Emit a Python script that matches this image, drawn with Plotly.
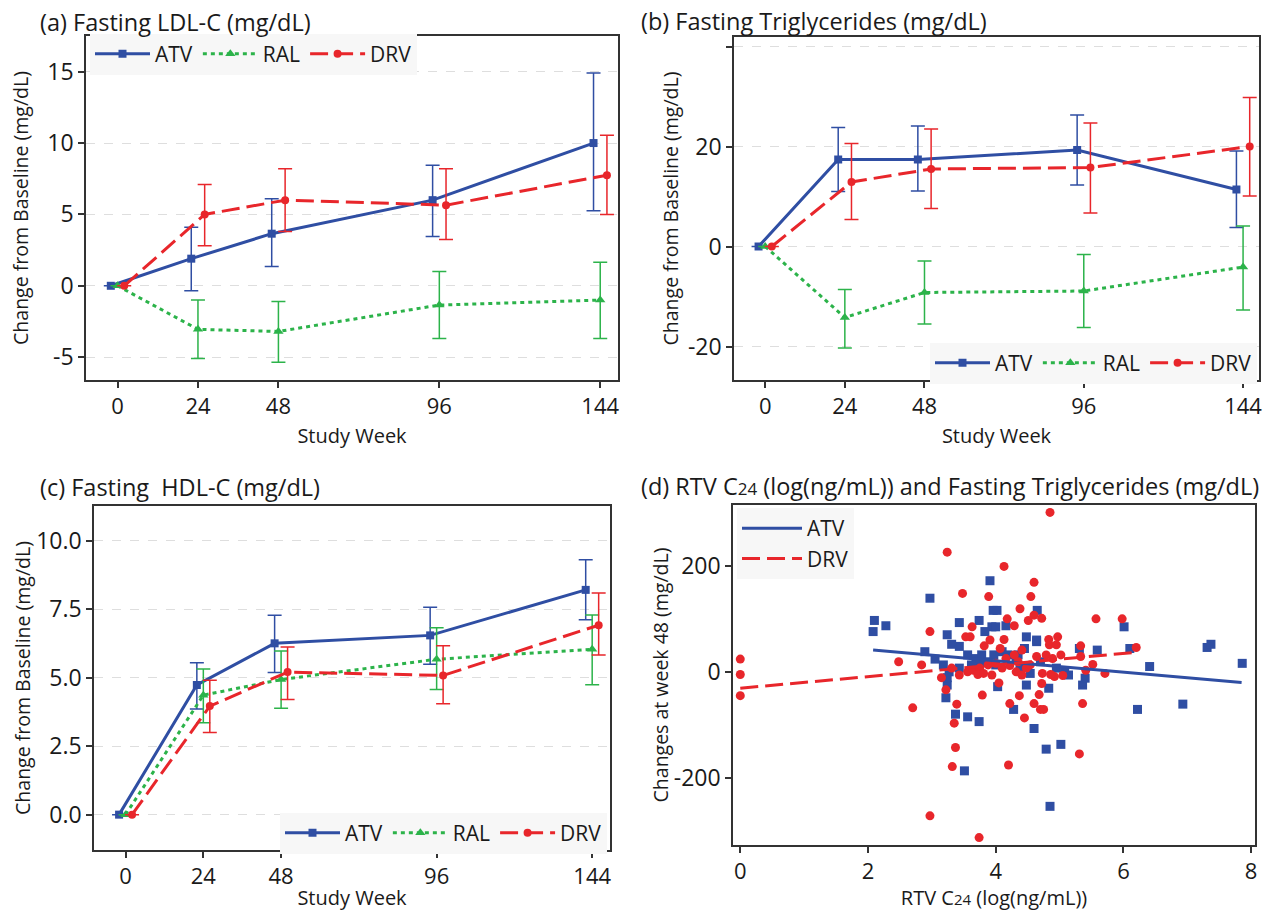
import plotly.graph_objects as go

# ---------------- data ----------------
weeks = [0, 24, 48, 96, 144]
groups = ["ATV", "RAL", "DRV"]

# (a) Fasting LDL-C: mean, upper and lower CI
ldl_atv = [0, 1.9, 3.65, 6.0, 10.0]
ldl_atv_hi = [None, 4.1, 6.1, 8.45, 14.9]
ldl_atv_lo = [None, -0.35, 1.35, 3.45, 5.25]
ldl_ral = [0, -3.05, -3.2, -1.35, -1.0]
ldl_ral_hi = [None, -1.0, -1.1, 1.0, 1.65]
ldl_ral_lo = [None, -5.1, -5.35, -3.7, -3.7]
ldl_drv = [0, 5.0, 6.0, 5.65, 7.75]
ldl_drv_hi = [None, 7.1, 8.2, 8.2, 10.55]
ldl_drv_lo = [None, 2.8, 3.8, 3.25, 5.0]

# (b) Fasting triglycerides
tg_atv = [0, 17.4, 17.4, 19.3, 11.4]
tg_atv_hi = [None, 23.8, 24.1, 26.3, 19.1]
tg_atv_lo = [None, 11.0, 11.1, 12.3, 3.8]
tg_ral = [0, -14.2, -9.2, -8.9, -4.1]
tg_ral_hi = [None, -8.6, -2.9, -1.6, 4.1]
tg_ral_lo = [None, -20.3, -15.5, -16.2, -12.7]
tg_drv = [0, 12.9, 15.5, 15.8, 20.0]
tg_drv_hi = [None, 20.6, 23.5, 24.7, 29.8]
tg_drv_lo = [None, 5.4, 7.6, 6.7, 10.1]

# (c) Fasting HDL-C
hdl_atv = [0, 4.73, 6.25, 6.54, 8.2]
hdl_atv_hi = [None, 5.54, 7.27, 7.57, 9.3]
hdl_atv_lo = [None, 3.85, 5.19, 5.49, 7.11]
hdl_ral = [0, 4.36, 4.93, 5.67, 6.03]
hdl_ral_hi = [None, 5.31, 5.97, 6.82, 7.28]
hdl_ral_lo = [None, 3.35, 3.88, 4.57, 4.74]
hdl_drv = [0, 3.96, 5.2, 5.08, 6.91]
hdl_drv_hi = [None, 4.9, 6.12, 6.16, 8.09]
hdl_drv_lo = [None, 3.0, 4.2, 4.05, 5.82]

# (d) RTV C24 vs change in triglycerides at week 48
atv_c24 = [2.10, 2.08, 2.28, 2.97, 3.24, 3.43, 3.74, 3.91, 3.96, 4.02, 3.94, 4.00, 3.83, 4.16,
           4.65, 4.48, 4.64, 6.01, 6.10, 5.59, 5.31, 7.31, 7.37, 7.86, 6.41, 6.22, 6.93, 5.36,
           5.40, 5.14, 2.89, 3.05, 3.24, 3.22, 3.37, 3.56, 3.74, 3.51, 4.60, 4.79, 5.02, 4.85,
           4.28, 4.03, 4.83, 4.48, 3.31, 3.43, 3.56, 3.69, 3.78, 3.88, 4.00, 4.10, 4.19, 4.32,
           4.38, 4.54, 4.70, 4.95, 5.08, 3.18, 3.27, 3.24, 3.43, 3.62, 3.75, 3.97, 4.35, 4.45, 4.64]
atv_tg48 = [98, 77, 88, 140, 71, 94, 98, 173, 117, 117, 86, 86, 77, 88,
            117, 67, 58, 86, 45, 42, 45, 47, 53, 17, 11, -70, -60, -24,
            -11, -5, 39, 25, -24, -48, -79, -84, -93, -186, -106, -145, -136, -253,
            -70, -27, -30, -24, 53, 49, 33, 26, 33, 20, 14, 39, 33, 23,
            8, -2, 20, 8, 1, 14, 1, -10, 8, 14, 17, 33, 33, 45, 61]
drv_c24 = [0.0, 0.0, 0.0, 4.85, 3.24, 4.13, 4.60, 3.48, 3.89, 4.55, 2.97, 4.38, 4.18, 4.29,
           4.72, 4.60, 4.51, 5.57, 5.98, 3.63, 3.53, 3.60, 3.82, 4.13, 3.91, 4.83, 4.97, 4.84,
           4.95, 5.33, 6.20, 2.48, 2.84, 2.70, 3.15, 3.22, 3.39, 3.35, 3.37, 3.32, 2.97, 3.74,
           3.79, 4.05, 4.22, 4.20, 4.37, 4.45, 4.60, 4.68, 4.70, 4.75, 4.72, 5.36, 5.31, 5.52,
           5.71, 5.41, 5.05, 4.92, 3.56, 3.65, 3.75, 3.88, 4.00, 4.10, 4.22, 4.32, 4.41, 4.48,
           4.64, 4.73, 4.86, 3.43, 3.72, 3.81, 3.94, 4.16, 4.29, 4.41, 4.79, 4.89, 5.02, 5.33,
           3.31, 4.35, 4.07, 4.54]
drv_tg48 = [25, -4, -44, 302, 227, 200, 170, 149, 143, 143, 77, 120, 101, 88,
            102, 108, 98, 101, 101, 86, 67, 67, 50, 62, 61, 62, 67, 52,
            52, 50, 47, 20, 14, -67, -10, -33, -60, -96, -142, -178, -271, -312,
            -43, -20, -59, -175, -44, -86, -59, -42, -70, -70, -21, -59, -154, 15,
            -2, 4, -6, -8, 1, 4, 8, 14, 17, 8, 13, 1, -5, 8,
            30, -2, -4, -5, -4, -2, -5, 26, 33, 42, 33, 26, 33, 30,
            8, 20, 45, 14]
# fitted regression lines (end points)
atv_fit_x = [2.08, 7.85]
atv_fit_y = [42, -19]
drv_fit_x = [0.0, 6.2]
drv_fit_y = [-30, 38]

# ---------------- styles ----------------
BLUE = "#2f4ea3"
GREEN = "#2cb34a"
RED = "#e8262b"
FONT = "Open Sans"
AXC = "#333333"
TXT = "#1a1a1a"
GRID = "#dedede"
W, H = 1272, 911
DODGE = {"ATV": -2, "RAL": 0, "DRV": 2}
STYLE = {
    "ATV": dict(color=BLUE, dash="solid", symbol="square", size=8),
    "RAL": dict(color=GREEN, dash="4px,4px", symbol="triangle-up", size=9),
    "DRV": dict(color=RED, dash="18px,7px", symbol="circle", size=8),
}

fig = go.Figure()


def add_series(ax, leg, name, y, hi, lo):
    st = STYLE[name]
    x = [w + DODGE[name] for w in weeks]
    plus = [None if h is None else h - v for h, v in zip(hi, y)]
    minus = [None if l is None else v - l for l, v in zip(lo, y)]
    fig.add_trace(go.Scatter(
        x=x, y=y, mode="lines+markers", name=name,
        xaxis="x" + ax, yaxis="y" + ax, legend=leg,
        line=dict(color=st["color"], width=3, dash=st["dash"]),
        marker=dict(symbol=st["symbol"], size=st["size"], color=st["color"]),
        error_y=dict(type="data", symmetric=False, array=plus, arrayminus=minus,
                     color=st["color"], thickness=1.5, width=7),
    ))


panels = [
    ("", "legend", [(ldl_atv, ldl_atv_hi, ldl_atv_lo), (ldl_ral, ldl_ral_hi, ldl_ral_lo),
                    (ldl_drv, ldl_drv_hi, ldl_drv_lo)]),
    ("2", "legend2", [(tg_atv, tg_atv_hi, tg_atv_lo), (tg_ral, tg_ral_hi, tg_ral_lo),
                      (tg_drv, tg_drv_hi, tg_drv_lo)]),
    ("3", "legend3", [(hdl_atv, hdl_atv_hi, hdl_atv_lo), (hdl_ral, hdl_ral_hi, hdl_ral_lo),
                      (hdl_drv, hdl_drv_hi, hdl_drv_lo)]),
]
for ax, leg, series in panels:
    for name, (y, hi, lo) in zip(groups, series):
        add_series(ax, leg, name, y, hi, lo)

# scatter panel (d)
fig.add_trace(go.Scatter(x=atv_c24, y=atv_tg48, mode="markers", xaxis="x4", yaxis="y4",
                         marker=dict(symbol="square", size=9, color=BLUE), showlegend=False))
fig.add_trace(go.Scatter(x=drv_c24, y=drv_tg48, mode="markers", xaxis="x4", yaxis="y4",
                         marker=dict(symbol="circle", size=9, color=RED), showlegend=False))
fig.add_trace(go.Scatter(x=atv_fit_x, y=atv_fit_y, mode="lines", name="ATV", xaxis="x4", yaxis="y4",
                         legend="legend4", line=dict(color=BLUE, width=3)))
fig.add_trace(go.Scatter(x=drv_fit_x, y=drv_fit_y, mode="lines", name="DRV", xaxis="x4", yaxis="y4",
                         legend="legend4", line=dict(color=RED, width=3, dash="18px,7px")))


def px_x(p):
    return p / W


def px_y(p):
    return 1 - p / H


def xax(dom, rng, tv, title, standoff=10):
    return dict(domain=[px_x(dom[0]), px_x(dom[1])], range=rng, tickvals=tv,
                ticktext=[str(t) for t in tv], showgrid=False, zeroline=False,
                showline=True, mirror=True, linecolor=AXC, linewidth=1.5,
                ticks="outside", ticklen=6, tickcolor=AXC, tickwidth=1.5,
                tickfont=dict(size=22, color=TXT, family=FONT), automargin=False,
                title=dict(text=title, font=dict(size=20, color=TXT, family=FONT), standoff=standoff))


def yax(dom, rng, tv, tt, title, standoff, grid=True):
    return dict(domain=[px_y(dom[1]), px_y(dom[0])], range=rng, tickvals=tv, ticktext=tt,
                showgrid=grid, gridcolor=GRID, griddash="dash", gridwidth=1, zeroline=False,
                showline=True, mirror=True, linecolor=AXC, linewidth=1.5,
                ticks="outside", ticklen=6, tickcolor=AXC, tickwidth=1.5,
                tickfont=dict(size=23, color=TXT, family=FONT), automargin=False,
                title=dict(text=title, font=dict(size=19.5, color=TXT, family=FONT), standoff=standoff))


YT = "Change from Baseline (mg/dL)"
SW = "Study Week"
layout_axes = dict(
    xaxis=xax((86, 618), [-9.4, 149.3], weeks, SW),
    yaxis=yax((36, 380), [-6.6, 17.5], [-5, 0, 5, 10, 15], ["-5", "0", "5", "10", "15"], YT, 14),
    xaxis2=xax((734, 1259), [-9.4, 148.8], weeks, SW),
    yaxis2=yax((37, 380), [-26.7, 41.9], [-20, 0, 20, 40], ["-20", "0", "20", ""], YT, 4),
    xaxis3=xax((94, 610), [-9.74, 149.5], weeks, SW),
    yaxis3=yax((506, 850), [-1.29, 11.26], [0, 2.5, 5, 7.5, 10],
               ["0.0", "2.5", "5.0", "7.5", "10.0"], YT, 0),
    xaxis4=xax((733, 1255), [-0.114, 8.06], [0, 2, 4, 6, 8],
               "RTV C<span style='font-size:15px'>24</span> (log(ng/mL))"),
    yaxis4=yax((505, 845), [-326, 316], [-200, 0, 200], ["-200", "0", "200"],
               "Changes at week 48 (mg/dL)", 0, grid=False),
)
for k in ["xaxis", "xaxis2", "xaxis3", "xaxis4"]:
    layout_axes[k]["anchor"] = "y" + k[5:]
for k in ["yaxis", "yaxis2", "yaxis3", "yaxis4"]:
    layout_axes[k]["anchor"] = "x" + k[5:]


def legend(x, y, xa, ya, orient="h", iw=55):
    return dict(x=px_x(x), y=px_y(y), xanchor=xa, yanchor=ya, orientation=orient,
                bgcolor="#f7f7f7", borderwidth=0, font=dict(size=21, family=FONT, color=TXT),
                itemwidth=iw, tracegroupgap=0)


titles = [
    (38, 22, "(a) Fasting LDL-C (mg/dL)"),
    (639, 21, "(b) Fasting Triglycerides (mg/dL)"),
    (38, 487, "(c) Fasting\u00a0 HDL-C (mg/dL)"),
    (639, 486, "(d) RTV C<span style='font-size:17px'>24</span> (log(ng/mL)) and Fasting Triglycerides (mg/dL)"),
]
annotations = [dict(x=px_x(x), y=px_y(y), xref="paper", yref="paper", xanchor="left",
                    yanchor="middle", showarrow=False, text=t,
                    font=dict(size=23.5, family=FONT, color=TXT)) for x, y, t in titles]

fig.update_layout(
    width=W, height=H, margin=dict(l=0, r=0, t=0, b=0),
    paper_bgcolor="white", plot_bgcolor="white",
    font=dict(family=FONT, color=TXT),
    showlegend=True,
    legend=legend(90, 54, "left", "middle"),
    legend2=legend(1257, 363, "right", "middle"),
    legend3=legend(607, 833, "right", "middle"),
    legend4=legend(737, 508, "left", "top", "v", 60),
    annotations=annotations,
    **layout_axes,
)

fig.write_html("out.html")
